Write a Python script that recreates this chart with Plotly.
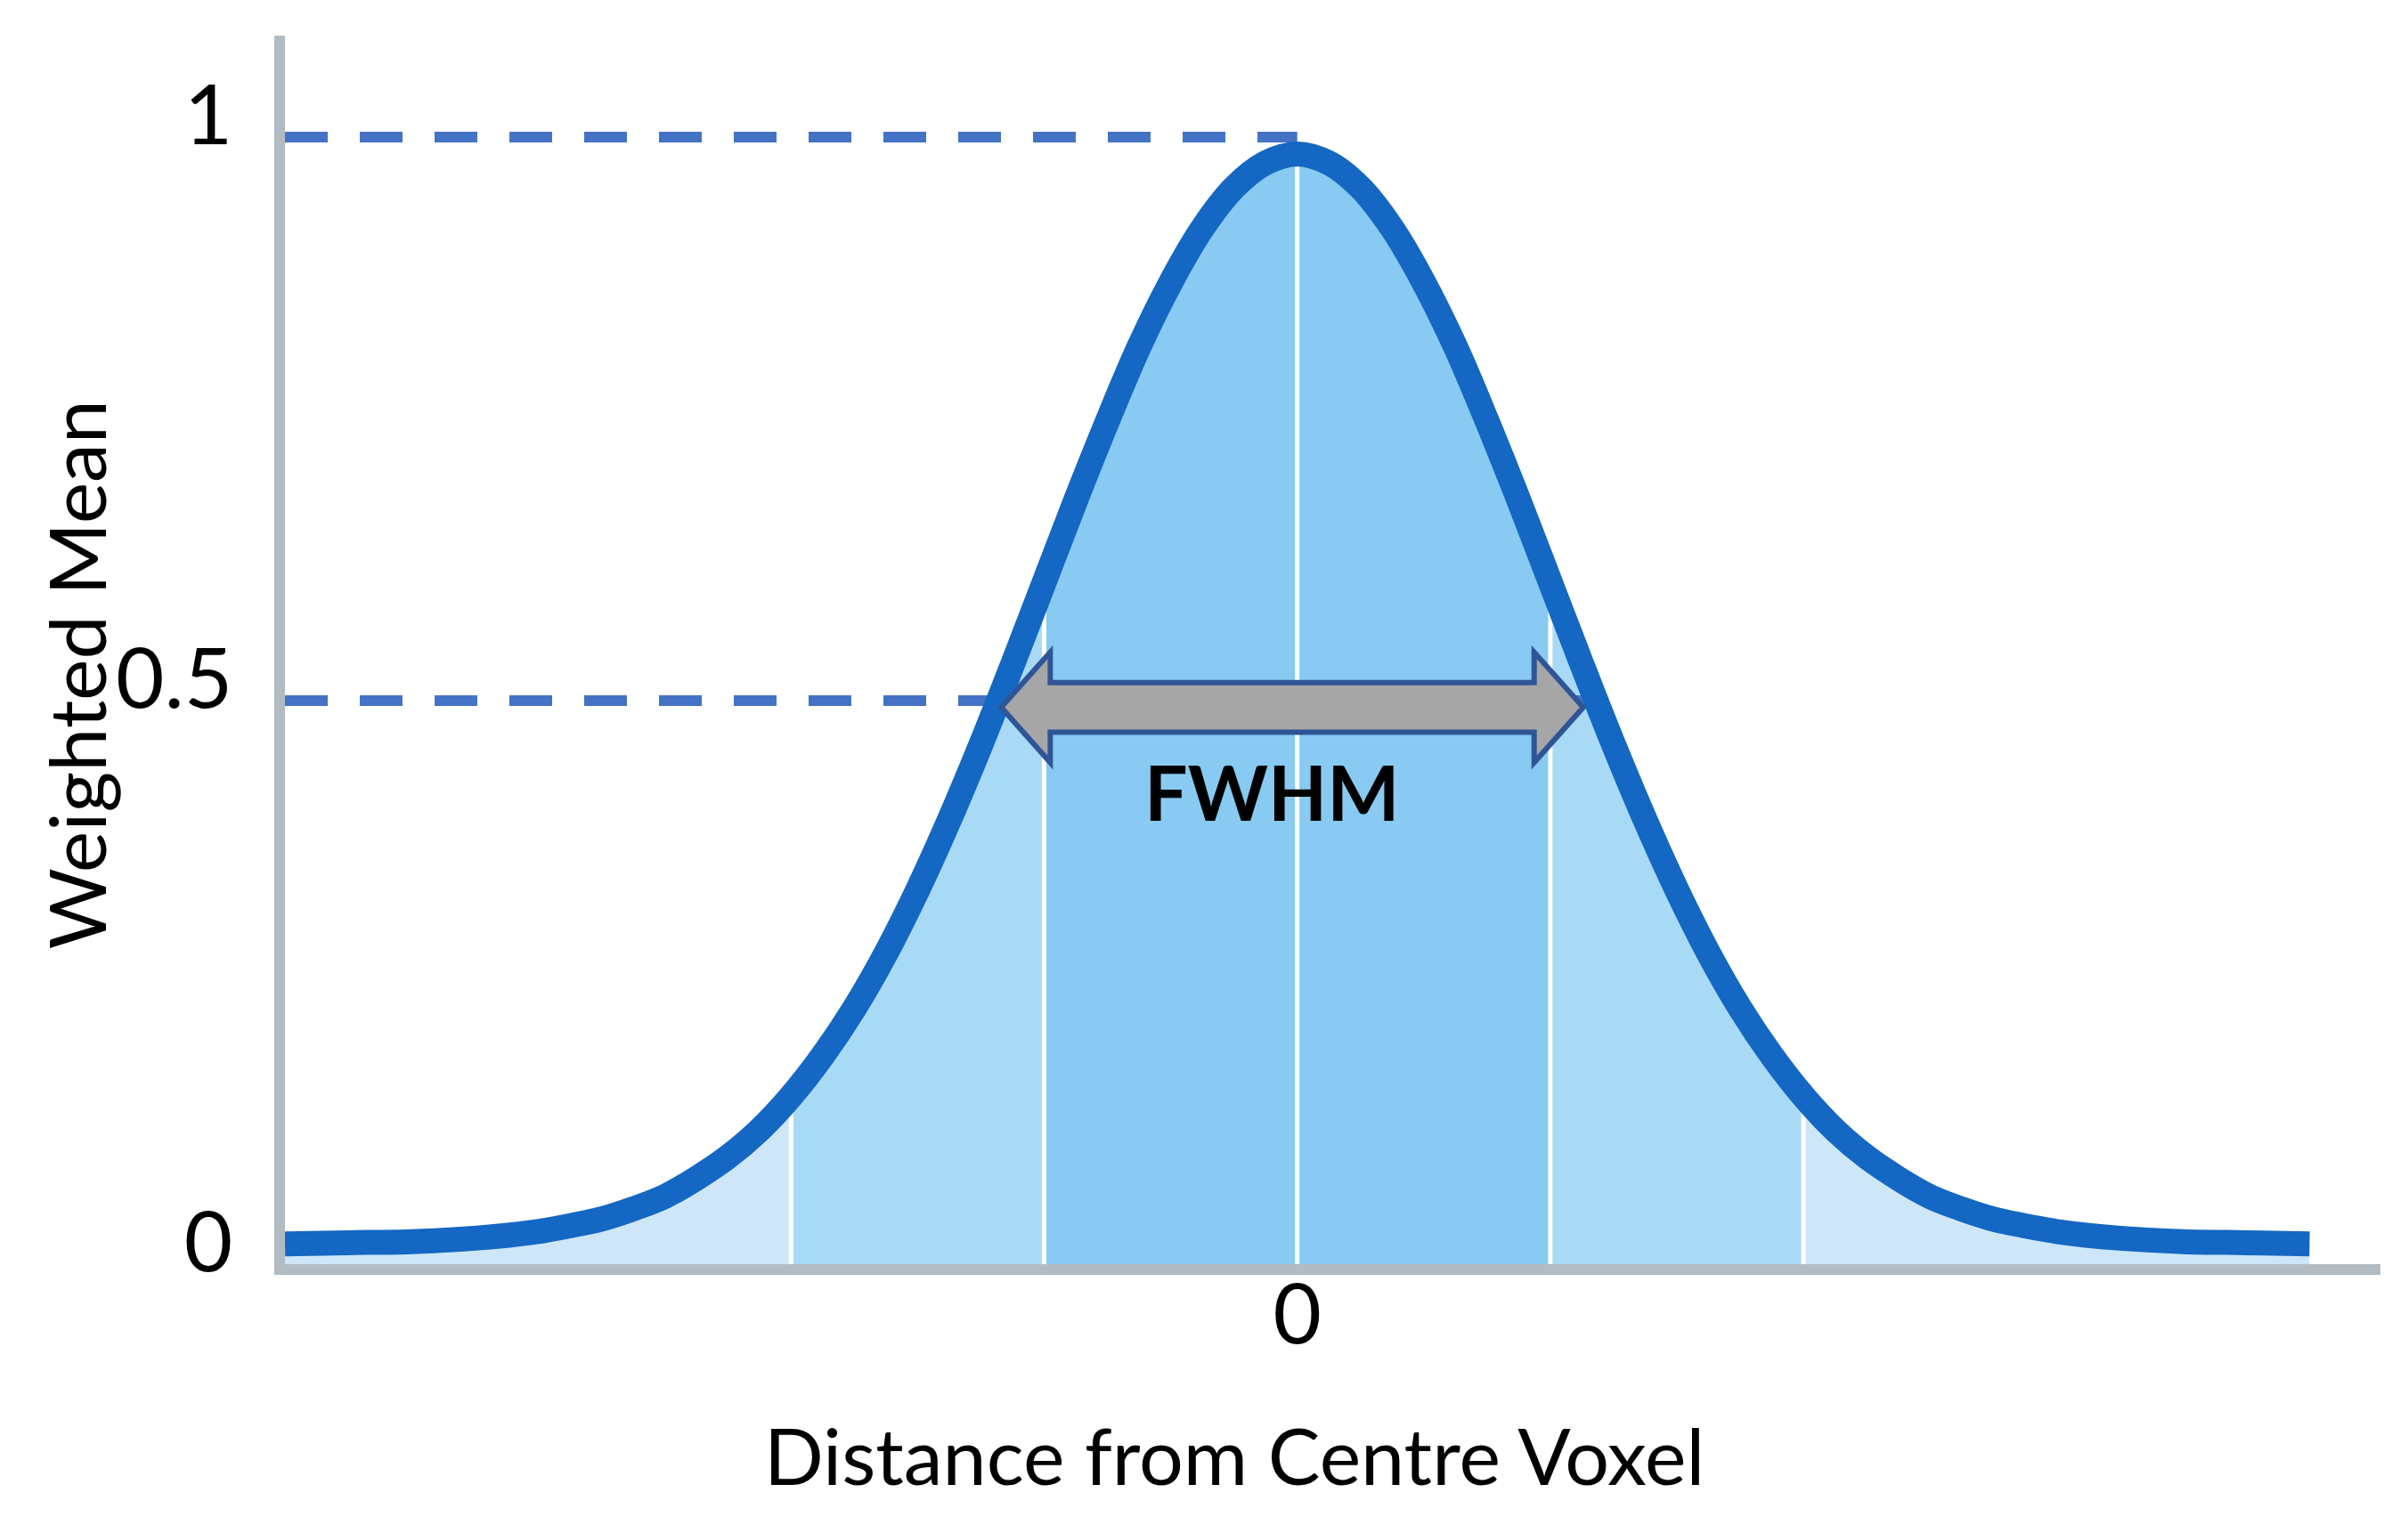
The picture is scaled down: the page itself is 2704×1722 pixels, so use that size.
import plotly.graph_objects as go

# distance from the centre voxel, in units of sigma
distance = [-4.0, -3.75, -3.5, -3.25,
            -3.0, -2.875, -2.75, -2.625, -2.5, -2.375, -2.25, -2.125,
            -2.0, -1.875, -1.75, -1.625, -1.5, -1.375, -1.25, -1.125,
            -1.0, -0.875, -0.75, -0.625, -0.5, -0.375, -0.25, -0.125,
            0.0, 0.125, 0.25, 0.375, 0.5, 0.625, 0.75, 0.875,
            1.0, 1.125, 1.25, 1.375, 1.5, 1.625, 1.75, 1.875,
            2.0, 2.125, 2.25, 2.375, 2.5, 2.625, 2.75, 2.875,
            3.0, 3.25, 3.5, 3.75, 4.0]
weight = [0.018, 0.019, 0.020, 0.023,
          0.029, 0.034, 0.040, 0.049, 0.060, 0.076, 0.095, 0.119,
          0.149, 0.185, 0.227, 0.276, 0.332, 0.394, 0.461, 0.532,
          0.605, 0.678, 0.748, 0.814, 0.871, 0.919, 0.955, 0.977,
          0.985, 0.977, 0.955, 0.919, 0.871, 0.814, 0.748, 0.678,
          0.605, 0.532, 0.461, 0.394, 0.332, 0.276, 0.227, 0.185,
          0.149, 0.119, 0.095, 0.076, 0.060, 0.049, 0.040, 0.034,
          0.029, 0.023, 0.020, 0.019, 0.018]

# shaded bands (sigma boundaries) and their colours
band_edges = [-4.0, -2.0, -1.0, 1.0, 2.0, 4.0]
band_colors = ['#CDE7F8', '#A9DAF5', '#88CAF1', '#A9DAF5', '#CDE7F8']
dividers = [-2.0, -1.0, 0.0, 1.0, 2.0]

# half maximum crossing and arrow ends
half_max = 0.5
half_max_x = [-1.19, 1.19]
arrow_x = [-1.17, 1.13]
arrow_y = 0.494

y_ticks = [0, 0.5, 1]
x_ticks = [0]

FONT = 'Lato, Open Sans, sans-serif'

fig = go.Figure()

# bands under the curve
for i, color in enumerate(band_colors):
    lo, hi = band_edges[i], band_edges[i + 1]
    xs = [d for d in distance if lo <= d <= hi]
    ys = [w for d, w in zip(distance, weight) if lo <= d <= hi]
    fig.add_trace(go.Scatter(
        x=xs, y=ys, mode='lines', fill='tozeroy', fillcolor=color,
        line=dict(width=0, shape='spline'), hoverinfo='skip', showlegend=False
    ))

# white dividers between bands
for d in dividers:
    top = weight[distance.index(d)]
    fig.add_trace(go.Scatter(
        x=[d, d], y=[0, top], mode='lines',
        line=dict(color='white', width=5), hoverinfo='skip', showlegend=False
    ))

# dashed guides at the peak and at half maximum
fig.add_trace(go.Scatter(
    x=[distance[0], 0], y=[max(weight) + 0.015, max(weight) + 0.015], mode='lines',
    line=dict(color='#4472C4', width=12, dash='48px,36px'), hoverinfo='skip', showlegend=False
))
fig.add_trace(go.Scatter(
    x=[distance[0], half_max_x[1]], y=[half_max, half_max], mode='lines',
    line=dict(color='#4472C4', width=12, dash='48px,36px'), hoverinfo='skip', showlegend=False
))

# the gaussian curve
fig.add_trace(go.Scatter(
    x=distance, y=weight, mode='lines',
    line=dict(color='#1467C2', width=28, shape='spline'), showlegend=False, name='Weighted Mean'
))

# block double arrow for FWHM
hl, hh, sh = 0.194, 0.049, 0.022
x0, x1, y = arrow_x[0], arrow_x[1], arrow_y
path = (f"M {x0},{y} L {x0 + hl},{y + hh} L {x0 + hl},{y + sh} L {x1 - hl},{y + sh} "
        f"L {x1 - hl},{y + hh} L {x1},{y} L {x1 - hl},{y - hh} L {x1 - hl},{y - sh} "
        f"L {x0 + hl},{y - sh} L {x0 + hl},{y - hh} Z")
fig.add_shape(type='path', path=path, xref='x', yref='y',
              fillcolor='#A6A6A6', line=dict(color='#2F5597', width=6), layer='above')

fig.add_annotation(x=-0.1, y=0.42, xref='x', yref='y', text='<b>FWHM</b>', showarrow=False,
                   font=dict(family=FONT, size=86, color='black'))

# axis titles
fig.add_annotation(x=0.453, y=-0.155, xref='paper', yref='paper', text='Distance from Centre Voxel',
                   showarrow=False, xanchor='center', yanchor='middle',
                   font=dict(family=FONT, size=88, color='black'))
fig.add_annotation(x=-0.1, y=0.48, xref='paper', yref='paper', text='Weighted Mean',
                   showarrow=False, textangle=-90, xanchor='center', yanchor='middle',
                   font=dict(family=FONT, size=88, color='black'))

fig.update_layout(
    width=2704, height=1722,
    margin=dict(l=312, r=39, t=32, b=310),
    plot_bgcolor='white', paper_bgcolor='white',
    xaxis=dict(range=[-4.0, 4.28], showgrid=False, zeroline=False,
               showline=True, linecolor='#B2BBC2', linewidth=12,
               tickvals=x_ticks, ticktext=['0'], ticks='', ticklabelstandoff=-36,
               tickfont=dict(family=FONT, size=94, color='black')),
    yaxis=dict(range=[0, 1.09], showgrid=False, zeroline=False,
               showline=True, linecolor='#B2BBC2', linewidth=12,
               tickvals=y_ticks, ticktext=['0', '0.5', '1'], ticks='', ticklabelstandoff=28,
               ticklabelshift=-25,
               tickfont=dict(family=FONT, size=94, color='black')),
)

fig.write_html("out.html")
